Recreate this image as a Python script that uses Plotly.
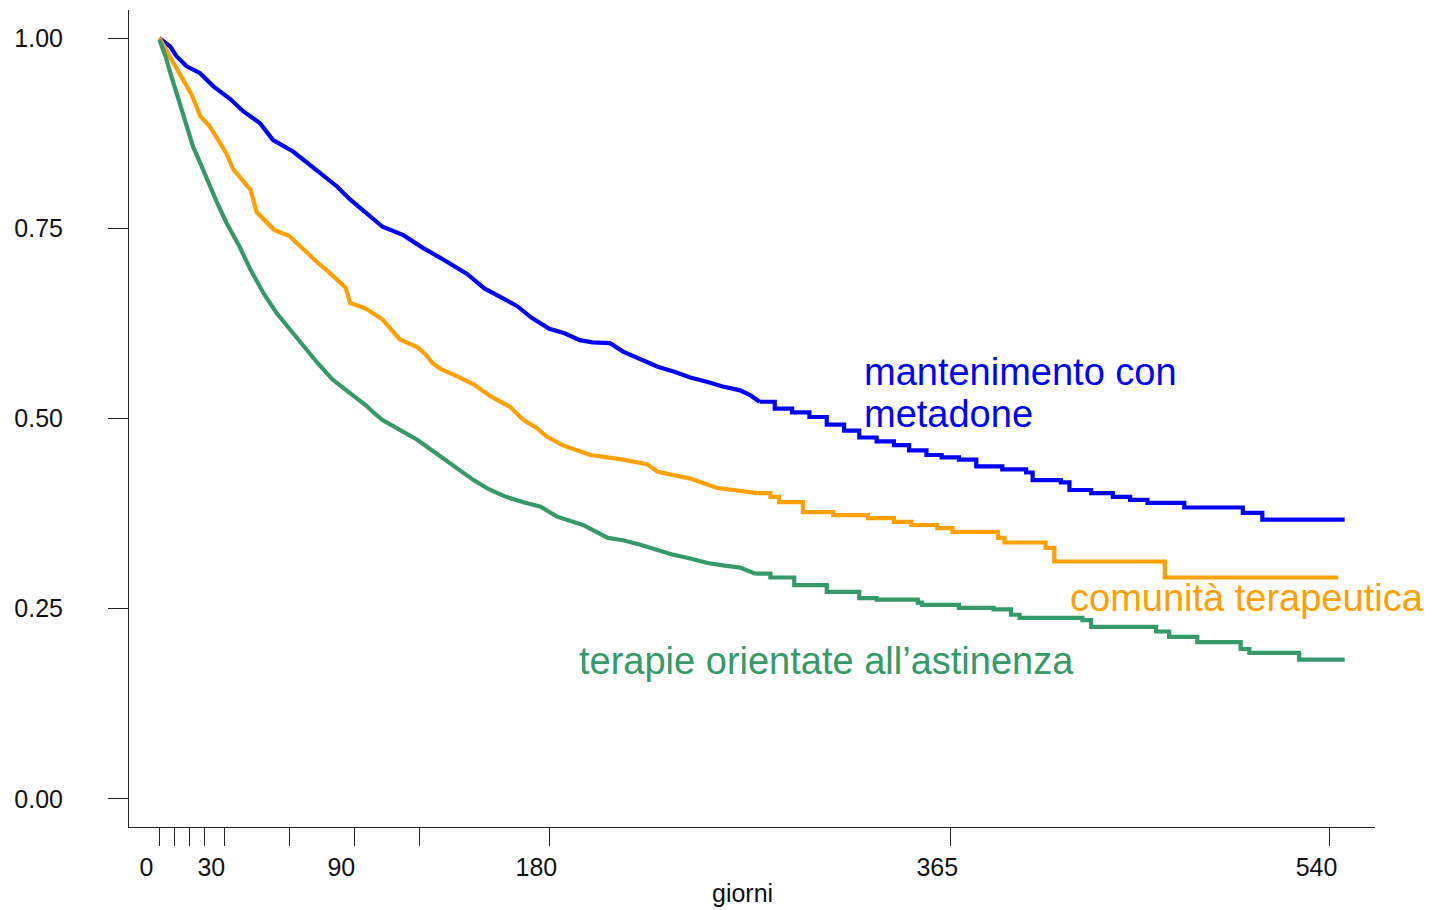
import plotly.graph_objects as go

# Kaplan-Meier style survival curves (days, survival probability)
blue_t = [0, 5, 8, 12.6, 18.8, 24.8, 32.7, 38.7, 46.5, 52.5, 61.7, 68, 74, 82, 88, 95.8, 103, 112.6,
          121.8, 131, 142, 150, 157, 165, 172, 180, 187, 194, 200, 208, 214, 222, 230, 238, 245, 253,
          260, 268, 273, 277, 284, 292, 300, 308, 316, 323, 331, 339, 346, 354, 361, 369, 377,
          389, 400, 403, 416, 420, 430, 440, 448, 456, 473, 500, 509, 547]
blue_s = [1.000, 0.989, 0.976, 0.963, 0.954, 0.937, 0.920, 0.904, 0.888, 0.866, 0.851, 0.837, 0.823,
          0.805, 0.788, 0.770, 0.752, 0.741, 0.724, 0.709, 0.690, 0.671, 0.660, 0.648, 0.632, 0.618,
          0.612, 0.603, 0.600, 0.599, 0.588, 0.578, 0.568, 0.561, 0.554, 0.548, 0.542, 0.537, 0.530, 0.522,
          0.513, 0.508, 0.502, 0.492, 0.484, 0.475, 0.470, 0.465, 0.458, 0.452, 0.449, 0.446, 0.437,
          0.433, 0.429, 0.419, 0.416, 0.406, 0.402, 0.397, 0.393, 0.389, 0.383, 0.376, 0.367, 0.367]

orange_t = [0, 3, 5, 8, 11, 15, 19, 23, 27, 31, 34, 38, 42, 45, 49, 53, 60, 65, 69, 73, 78, 82, 86,
            88, 95, 103, 107, 111, 119, 123, 126, 130, 137, 145, 150, 153, 162, 168, 174, 179, 186,
            193, 199, 214, 225, 230, 240, 245, 257, 276, 282, 286, 297, 311, 327, 339, 347, 359,
            366, 387, 390, 409, 413, 464, 544]
orange_s = [1.000, 0.985, 0.976, 0.960, 0.946, 0.925, 0.897, 0.885, 0.867, 0.848, 0.828, 0.815,
            0.801, 0.771, 0.760, 0.748, 0.740, 0.726, 0.715, 0.705, 0.693, 0.682, 0.672, 0.652,
            0.645, 0.630, 0.618, 0.604, 0.594, 0.584, 0.573, 0.565, 0.556, 0.545, 0.535, 0.529,
            0.515, 0.498, 0.488, 0.476, 0.465, 0.458, 0.452, 0.446, 0.440, 0.430, 0.424, 0.421,
            0.409, 0.402, 0.397, 0.390, 0.377, 0.373, 0.369, 0.364, 0.360, 0.356, 0.351, 0.343,
            0.337, 0.330, 0.312, 0.291, 0.291]

green_t = [0, 3, 5, 8, 11, 13, 15.6, 19, 22, 26.6, 31, 34, 37, 42, 45, 48, 54, 60, 65, 69, 73, 80,
           88, 95, 100, 103, 111, 119, 124, 130, 137, 145, 152, 160, 168, 176, 183.5, 195.5, 207,
           214, 222, 230, 237, 245, 253, 260, 268, 275, 282, 293, 308, 323, 331, 350, 352, 369,
           385, 393, 397, 426, 430, 460, 466, 479, 499, 503, 526, 547]
green_s = [0.998, 0.975, 0.955, 0.928, 0.902, 0.880, 0.857, 0.835, 0.814, 0.784, 0.757, 0.742,
           0.726, 0.696, 0.680, 0.665, 0.639, 0.618, 0.600, 0.587, 0.573, 0.551, 0.534, 0.518,
           0.505, 0.498, 0.485, 0.472, 0.462, 0.450, 0.435, 0.419, 0.407, 0.397, 0.390, 0.384,
           0.371, 0.360, 0.343, 0.340, 0.334, 0.327, 0.321, 0.316, 0.310, 0.307, 0.304, 0.296,
           0.291, 0.281, 0.272, 0.264, 0.262, 0.258, 0.255, 0.251, 0.249, 0.242, 0.238, 0.235,
           0.226, 0.220, 0.213, 0.206, 0.197, 0.192, 0.183, 0.183]

x_tickvals = [0, 7, 14, 21, 30, 60, 90, 120, 180, 365, 540]
x_ticktext = ["0", "", "", "", "30", "", "90", "", "180", "365", "540"]
y_tickvals = [0.00, 0.25, 0.50, 0.75, 1.00]
y_ticktext = ["0.00", "0.25", "0.50", "0.75", "1.00"]

BLUE = "#0000FF"
ORANGE = "#FFA000"
GREEN = "#35996A"
FONT = "Liberation Sans, Arial, sans-serif"

fig = go.Figure()
# dense tiny steps in the early part are drawn as a line, the sparse late steps as a staircase
series = [(blue_t, blue_s, BLUE, 277), (orange_t, orange_s, ORANGE, 276), (green_t, green_s, GREEN, 275)]
for t, s, c, split in series:
    early = [(a, b) for a, b in zip(t, s) if a <= split]
    late = [(a, b) for a, b in zip(t, s) if a >= split]
    fig.add_trace(go.Scatter(x=[p[0] for p in early], y=[p[1] for p in early], mode="lines",
                             line=dict(color=c, width=4.2, shape="linear"),
                             showlegend=False, hoverinfo="skip"))
    fig.add_trace(go.Scatter(x=[p[0] for p in late], y=[p[1] for p in late], mode="lines",
                             line=dict(color=c, width=4.2, shape="hv"),
                             showlegend=False, hoverinfo="skip"))

labels = [
    ("mantenimento con", 324.2, 0.5615, BLUE),
    ("metadone", 324.2, 0.506, BLUE),
    ("comunità terapeutica", 419.4, 0.264, ORANGE),
    ("terapie orientate all’astinenza", 192.8, 0.181, GREEN),
]
for text, x, y, c in labels:
    fig.add_annotation(x=x, y=y, text=text, showarrow=False, xanchor="left", yanchor="middle",
                       font=dict(family=FONT, size=38, color=c))

fig.add_annotation(x=0.492, y=-0.0808, xref="paper", yref="paper", text="giorni", showarrow=False,
                   xanchor="center", yanchor="middle", font=dict(family=FONT, size=25, color="#111"))

# the page adds an 8px body margin, so the figure is made 8px smaller on each axis
fig.update_layout(
    width=1426, height=902,
    margin=dict(l=121, r=59, t=2, b=83),
    paper_bgcolor="white", plot_bgcolor="white",
    font=dict(family=FONT, size=25, color="#111"),
    xaxis=dict(range=[-14, 561], tickvals=x_tickvals, ticktext=x_ticktext,
               ticks="outside", ticklen=18, tickwidth=1, tickcolor="#222",
               showline=True, linecolor="#222", linewidth=1, showgrid=False, zeroline=False,
               ticklabelshift=-13),
    yaxis=dict(range=[-0.037, 1.037], tickvals=y_tickvals, ticktext=y_ticktext,
               ticks="outside", ticklen=20, tickwidth=1, tickcolor="#222",
               showline=True, linecolor="#222", linewidth=1, showgrid=False, zeroline=False,
               ticklabelstandoff=40),
)

fig.write_html("out.html")
